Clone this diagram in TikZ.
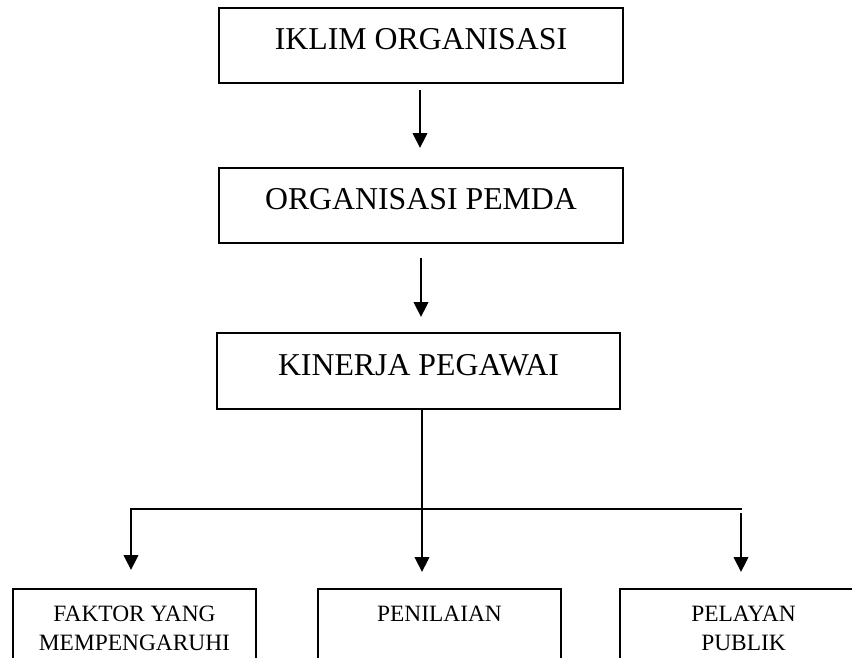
\documentclass[tikz,border=0pt]{standalone}
\usepackage{fontspec}
\setmainfont{Liberation Serif}
\usetikzlibrary{arrows.meta}
\begin{document}
\begin{tikzpicture}[x=1pt,y=-1pt,
  box/.style={draw,line width=2pt,inner sep=0pt,anchor=north,
    font=\fontsize{31.8}{38}\selectfont,text height=41pt,text depth=34pt},
  smallbox/.style={draw,line width=2pt,inner sep=0pt,anchor=north,
    font=\fontsize{23.4}{29}\selectfont,text height=32pt,text depth=110pt},
  line/.style={line width=2pt},
  arr/.style={line width=2.2pt,-{Triangle[length=15pt,width=14.5pt]}}]
\useasboundingbox (0,0) rectangle (852,657);
\clip (0,0) rectangle (852,657);
\node[box,minimum width=404pt] (b1) at (421,7) {IKLIM ORGANISASI};
\node[box,minimum width=404pt] (b2) at (421,167) {ORGANISASI PEMDA};
\node[box,minimum width=403pt,text height=42pt] (b3) at (418.5,332) {KINERJA PEGAWAI};
\node[smallbox,minimum width=243pt] (bl) at (134.5,588)
  {\begin{tabular}[t]{@{}c@{}}FAKTOR YANG\\MEMPENGARUHI\end{tabular}};
\node[smallbox,minimum width=243pt] (bm) at (439.5,588) {PENILAIAN};
\node[smallbox,minimum width=247pt] (br) at (743.5,588)
  {\begin{tabular}[t]{@{}c@{}}PELAYAN\\PUBLIK\end{tabular}};
\coordinate (jn) at (422,509);
\coordinate (hl) at (131,509);
\coordinate (hr) at (741,509);
\draw[arr,shorten <=6pt,shorten >=19pt] (b1.south -| 420,0) -- (b2.north -| 420,0);
\draw[arr,shorten <=14pt,shorten >=15pt] (b2.south -| 421,0) -- (b3.north -| 421,0);
\draw[arr,shorten >=16pt] (b3.south -| jn) -- (bm.north -| jn);
\draw[line] ([xshift=-1.1pt]hl) -- ([xshift=1.1pt]hr);
\draw[arr,shorten >=18pt] (hl) -- (bl.north -| hl);
\draw[arr,shorten <=4pt,shorten >=16pt] (hr) -- (br.north -| hr);
\end{tikzpicture}
\end{document}
